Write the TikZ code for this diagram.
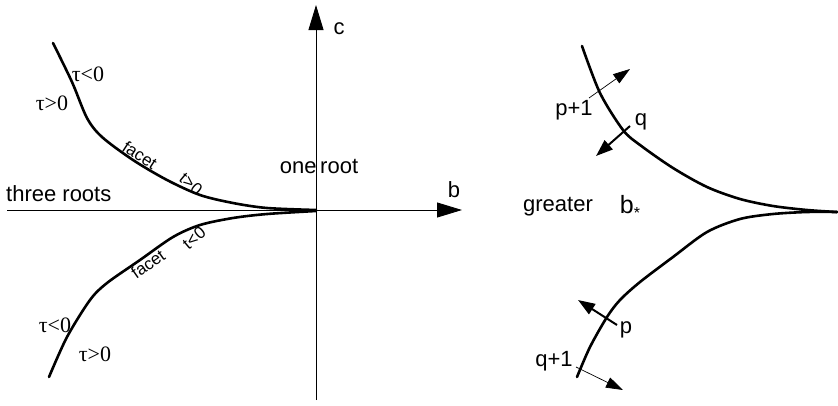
\documentclass[tikz,border=0pt]{standalone}
\usepackage{fontspec}
\setmainfont{Liberation Sans}
\newfontfamily\serifgr{Liberation Serif}
\usetikzlibrary{arrows.meta}
\begin{document}
\begin{tikzpicture}[x=1pt,y=-1pt,
  curve/.style={line width=2.6pt,line cap=round},
  axis/.style={line width=0.9pt,-{Triangle[length=25pt,width=15pt]}},
  thinarr/.style={line width=0.7pt,-{Triangle[length=17pt,width=11pt]}},
  thickarr/.style={line width=2pt,-{Triangle[length=17pt,width=12pt]}},
  lab/.style={inner sep=0pt,font=\fontsize{22}{24}\selectfont},
  tau/.style={inner sep=0pt,font=\serifgr\fontsize{22}{24}\selectfont},
  small/.style={inner sep=0pt,font=\fontsize{17}{20}\selectfont}]
\useasboundingbox (0,0) rectangle (838,405);
% axes
\coordinate (cbot) at (316,400);
\coordinate (ctop) at (316,5);
\coordinate (bleft) at (7,210);
\coordinate (bright) at (462,210);
\draw[axis] (cbot) -- (ctop);
\draw[axis] (bleft) -- (bright);
\node[lab] (c) at (339,29) {c};
\node[lab] (b) at (454,190) {b};
\node[lab] (one) at (319,166) {one\,root};
\node[lab,anchor=west] (three) at (6,194) {three roots};
% left curves
\draw[curve] plot[smooth,tension=0.5] coordinates {(53,43) (72,82) (87,118) (102,137) (133,160) (167,180) (200,195) (233,203) (267,208) (316,210)};
\draw[curve] plot[smooth,tension=0.5] coordinates {(49,377) (67,337) (90,300) (107,283) (140,260) (173,237) (200,225) (233,218) (267,214) (316,211)};
\node[tau] (t1) at (88,74) {τ<0};
\node[tau] (t2) at (52,103) {τ>0};
\node[tau] (t3) at (55,325) {τ<0};
\node[tau] (t4) at (95,354) {τ>0};
\node[small,rotate=-33] (f1) at (140,155) {facet};
\node[small,rotate=-40] (s1) at (191,184) {t>0};
\node[small,rotate=35] (f2) at (148,264) {facet};
\node[small,rotate=40] (s2) at (194,238) {t<0};
% right curves
\draw[curve] plot[smooth,tension=0.5] coordinates {(582,46) (600,93) (623,130) (640,145) (673,168) (707,187) (740,199) (773,206) (807,210) (837,212)};
\draw[curve] plot[smooth,tension=0.5] coordinates {(577,377) (590,347) (607,317) (620,300) (640,282) (673,257) (707,232) (740,219) (773,214) (807,212) (837,212)};
% arrows
\coordinate (a1s) at (589,98);
\coordinate (a1e) at (630,69);
\coordinate (a2s) at (630,126);
\coordinate (a2e) at (596,156);
\coordinate (a3s) at (617,325);
\coordinate (a3e) at (578,300);
\coordinate (a4s) at (576,367);
\coordinate (a4e) at (623,390);
\draw[thinarr] (a1s) -- (a1e);
\draw[thickarr] (a2s) -- (a2e);
\draw[thickarr] (a3s) -- (a3e);
\draw[thinarr] (a4s) -- (a4e);
\node[lab] (pp1) at (574,110) {p+1};
\node[lab] (q) at (641,122) {q};
\node[lab] (p) at (626,330) {p};
\node[lab] (qp1) at (554,361) {q+1};
\node[lab] (gr) at (558,207) {greater};
\node[lab,font=\fontsize{25}{26}\selectfont] (bs) at (630,207) {b\raisebox{-0.35ex}{\fontsize{16}{18}\selectfont *}};
\end{tikzpicture}
\end{document}
